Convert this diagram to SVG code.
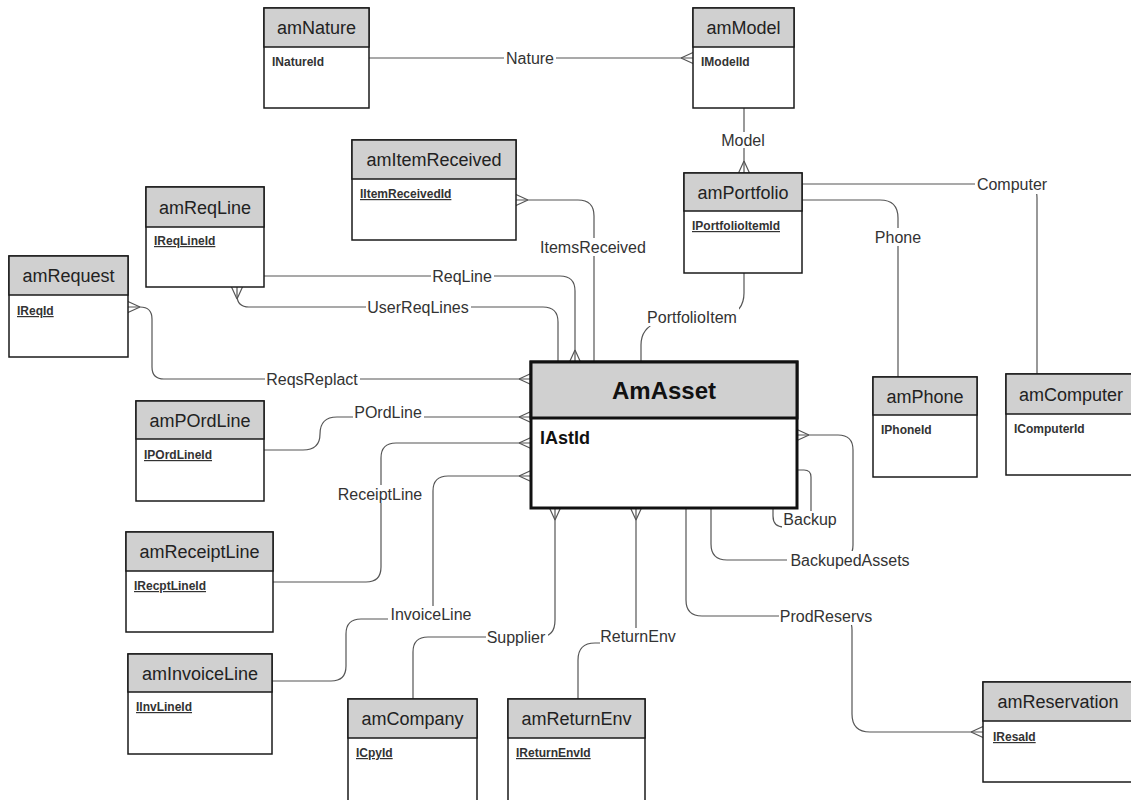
<svg xmlns="http://www.w3.org/2000/svg" width="1131" height="800" viewBox="0 0 1131 800">
<style>
  .box{fill:#ffffff;stroke:#1a1a1a;stroke-width:1.5}
  .hdr{fill:#d0d0d0;stroke:#1a1a1a;stroke-width:1.5}
  .big{fill:#ffffff;stroke:#111;stroke-width:3}
  .bighdr{fill:#d0d0d0;stroke:#111;stroke-width:3}
  .title{font-family:"Liberation Sans",Arial,sans-serif;font-size:18px;fill:#222;text-anchor:middle}
  .attr{font-family:"Liberation Sans",Arial,sans-serif;font-size:12px;font-weight:bold;fill:#333}
  .ul{text-decoration:underline}
  .con{fill:none;stroke:#555;stroke-width:1.2}
  .crow{fill:none;stroke:#555;stroke-width:1.2}
  .lbl{font-family:"Liberation Sans",Arial,sans-serif;font-size:16px;fill:#333;text-anchor:middle;dominant-baseline:central}
  .lblbg{fill:#ffffff}
</style>
<rect x="0" y="0" width="1131" height="800" fill="#ffffff"/>
<g id="connectors">
  <path class="con" d="M369,58 H693"/>
  <path class="con" d="M744,108 V173"/>
  <path class="con" d="M802,184 H1025 Q1037,184 1037,198 V374"/>
  <path class="con" d="M802,200 H880 Q898,200 898,218 V377"/>
  <path class="con" d="M744,273 V293 Q744,312 725,317 M658,322 Q641,328 641,345 V362"/>
  <path class="con" d="M516,200 H578 Q594,200 594,216 V362"/>
  <path class="con" d="M264,276 H560 Q575,276 575,291 V362"/>
  <path class="con" d="M237,287 V295 Q237,307 249,307 H543 Q558,307 558,322 V362"/>
  <path class="con" d="M128,307 H140 Q152,307 152,319 V367 Q152,379 164,379 H531"/>
  <path class="con" d="M264,450 H303 Q320,450 320,434 Q320,417 337,417 H531"/>
  <path class="con" d="M531,443 H396 Q381,443 381,458 V567 Q381,582 366,582 H273"/>
  <path class="con" d="M531,476 H448 Q433,476 433,491 V610 M388,619 H361 Q346,619 346,634 V666 Q346,681 331,681 H272"/>
  <path class="con" d="M555,508 V620 Q555,637 540,637 H428 Q413,637 413,652 V699"/>
  <path class="con" d="M636,508 V630 M602,643 H595 Q578,643 578,660 V699"/>
  <path class="con" d="M686,508 V600 Q686,616 702,616 H840 Q852,616 852,630 V714 Q852,732 870,732 H983"/>
  <path class="con" d="M797,435 H838 Q853,435 853,450 V545 Q853,560 838,560 H727 Q711,560 711,544 V508"/>
  <path class="con" d="M797,470 H804 Q811,470 811,477 V512 M784,527 Q773,527 773,516 V508"/>
  <g id="crowfeet">
    <path class="crow" d="M681,58 L693,52.5 M681,58 L693,63.5"/>
    <path class="crow" d="M744,161 L738.5,173 M744,161 L749.5,173"/>
    <path class="crow" d="M528,200 L516,194.5 M528,200 L516,205.5"/>
    <path class="crow" d="M575,350 L569.5,362 M575,350 L580.5,362"/>
    <path class="crow" d="M237,299 L231.5,287 M237,299 L242.5,287"/>
    <path class="crow" d="M140,307 L128,301.5 M140,307 L128,312.5"/>
    <path class="crow" d="M519,379 L531,373.5 M519,379 L531,384.5"/>
    <path class="crow" d="M519,417 L531,411.5 M519,417 L531,422.5"/>
    <path class="crow" d="M519,443 L531,437.5 M519,443 L531,448.5"/>
    <path class="crow" d="M519,476 L531,470.5 M519,476 L531,481.5"/>
    <path class="crow" d="M809,435 L797,429.5 M809,435 L797,440.5"/>
    <path class="crow" d="M555,520 L549.5,508 M555,520 L560.5,508"/>
    <path class="crow" d="M636,520 L630.5,508 M636,520 L641.5,508"/>
    <path class="crow" d="M971,732 L983,726.5 M971,732 L983,737.5"/>
  </g>
  <g id="connector-labels">
    <rect class="lblbg" x="504" y="50" width="52" height="16"/><text class="lbl" x="530" y="58">Nature</text>
    <rect class="lblbg" x="720" y="132" width="47" height="16"/><text class="lbl" x="743" y="140">Model</text>
    <rect class="lblbg" x="975" y="176" width="74" height="18"/><text class="lbl" x="1012" y="184">Computer</text>
    <rect class="lblbg" x="873" y="228" width="50" height="18"/><text class="lbl" x="898" y="237">Phone</text>
    <rect class="lblbg" x="539" y="238" width="109" height="18"/><text class="lbl" x="593" y="247">ItemsReceived</text>
    <rect class="lblbg" x="431" y="268" width="63" height="16"/><text class="lbl" x="462" y="276">ReqLine</text>
    <rect class="lblbg" x="366" y="299" width="105" height="16"/><text class="lbl" x="418" y="307">UserReqLines</text>
    <rect class="lblbg" x="646" y="308" width="93" height="18"/><text class="lbl" x="692" y="317">PortfolioItem</text>
    <rect class="lblbg" x="265" y="371" width="95" height="16"/><text class="lbl" x="312" y="379">ReqsReplact</text>
    <rect class="lblbg" x="353" y="404" width="71" height="16"/><text class="lbl" x="388" y="412">POrdLine</text>
    <rect class="lblbg" x="337" y="485" width="88" height="18"/><text class="lbl" x="380" y="494">ReceiptLine</text>
    <rect class="lblbg" x="390" y="606" width="83" height="16"/><text class="lbl" x="431" y="614">InvoiceLine</text>
    <rect class="lblbg" x="486" y="628" width="62" height="18"/><text class="lbl" x="516" y="637">Supplier</text>
    <rect class="lblbg" x="600" y="628" width="78" height="16"/><text class="lbl" x="638" y="636">ReturnEnv</text>
    <rect class="lblbg" x="779" y="608" width="96" height="17"/><text class="lbl" x="826" y="616">ProdReservs</text>
    <rect class="lblbg" x="782" y="511" width="57" height="18"/><text class="lbl" x="810" y="519">Backup</text>
    <rect class="lblbg" x="787" y="551" width="126" height="18"/><text class="lbl" x="850" y="560">BackupedAssets</text>
  </g>
</g>
<g id="amNature">
  <rect class="box" x="264" y="8" width="105" height="100"/>
  <rect class="hdr" x="264" y="8" width="105" height="39"/>
  <text class="title" x="316.5" y="34">amNature</text>
  <text class="attr" x="272" y="66">INatureId</text>
</g>
<g id="amModel">
  <rect class="box" x="693" y="8" width="101" height="100"/>
  <rect class="hdr" x="693" y="8" width="101" height="39"/>
  <text class="title" x="743.5" y="34">amModel</text>
  <text class="attr" x="701" y="66">IModelId</text>
</g>
<g id="amItemReceived">
  <rect class="box" x="352" y="140" width="164" height="100"/>
  <rect class="hdr" x="352" y="140" width="164" height="39"/>
  <text class="title" x="434" y="166">amItemReceived</text>
  <text class="attr ul" x="360" y="198">IItemReceivedId</text>
</g>
<g id="amReqLine">
  <rect class="box" x="146" y="187" width="118" height="100"/>
  <rect class="hdr" x="146" y="187" width="118" height="40"/>
  <text class="title" x="205" y="213.5">amReqLine</text>
  <text class="attr ul" x="154" y="245">IReqLineId</text>
</g>
<g id="amRequest">
  <rect class="box" x="9" y="256" width="119" height="101"/>
  <rect class="hdr" x="9" y="256" width="119" height="39"/>
  <text class="title" x="68.5" y="282">amRequest</text>
  <text class="attr ul" x="17" y="315">IReqId</text>
</g>
<g id="amPortfolio">
  <rect class="box" x="684" y="173" width="118" height="100"/>
  <rect class="hdr" x="684" y="173" width="118" height="38"/>
  <text class="title" x="743" y="198.5">amPortfolio</text>
  <text class="attr ul" x="692" y="230">IPortfolioItemId</text>
</g>
<g id="AmAsset">
  <rect class="big" x="531" y="362" width="266" height="146"/>
  <rect class="bighdr" x="531" y="362" width="266" height="56"/>
  <text x="664" y="398.5" font-family="Liberation Sans, Arial, sans-serif" font-size="24" font-weight="bold" fill="#111" text-anchor="middle">AmAsset</text>
  <text x="540" y="444" font-family="Liberation Sans, Arial, sans-serif" font-size="18" font-weight="bold" fill="#111">lAstId</text>
</g>
<g id="amPOrdLine">
  <rect class="box" x="136" y="401" width="128" height="100"/>
  <rect class="hdr" x="136" y="401" width="128" height="38"/>
  <text class="title" x="200" y="426.5">amPOrdLine</text>
  <text class="attr ul" x="144" y="459">IPOrdLineId</text>
</g>
<g id="amReceiptLine">
  <rect class="box" x="126" y="532" width="147" height="100"/>
  <rect class="hdr" x="126" y="532" width="147" height="39"/>
  <text class="title" x="199.5" y="558">amReceiptLine</text>
  <text class="attr ul" x="134" y="590">IRecptLineId</text>
</g>
<g id="amInvoiceLine">
  <rect class="box" x="128" y="654" width="144" height="100"/>
  <rect class="hdr" x="128" y="654" width="144" height="38"/>
  <text class="title" x="200" y="679.5">amInvoiceLine</text>
  <text class="attr ul" x="136" y="711">IInvLineId</text>
</g>
<g id="amCompany">
  <rect class="box" x="348" y="699" width="129" height="104"/>
  <rect class="hdr" x="348" y="699" width="129" height="39"/>
  <text class="title" x="412.5" y="725">amCompany</text>
  <text class="attr ul" x="356" y="757">ICpyId</text>
</g>
<g id="amReturnEnv">
  <rect class="box" x="508" y="699" width="137" height="104"/>
  <rect class="hdr" x="508" y="699" width="137" height="39"/>
  <text class="title" x="576.5" y="725">amReturnEnv</text>
  <text class="attr ul" x="516" y="757">IReturnEnvId</text>
</g>
<g id="amPhone">
  <rect class="box" x="873" y="377" width="104" height="100"/>
  <rect class="hdr" x="873" y="377" width="104" height="38"/>
  <text class="title" x="925" y="402.5">amPhone</text>
  <text class="attr" x="881" y="434">IPhoneId</text>
</g>
<g id="amComputer">
  <rect class="box" x="1006" y="374" width="130" height="101"/>
  <rect class="hdr" x="1006" y="374" width="130" height="40"/>
  <text class="title" x="1071" y="400.5">amComputer</text>
  <text class="attr" x="1014" y="433">IComputerId</text>
</g>
<g id="amReservation">
  <rect class="box" x="983" y="682" width="152" height="100"/>
  <rect class="hdr" x="983" y="682" width="152" height="39"/>
  <text class="title" x="1058" y="708">amReservation</text>
  <text class="attr ul" x="993" y="741" font-weight="normal">IResaId</text>
</g>
</svg>
